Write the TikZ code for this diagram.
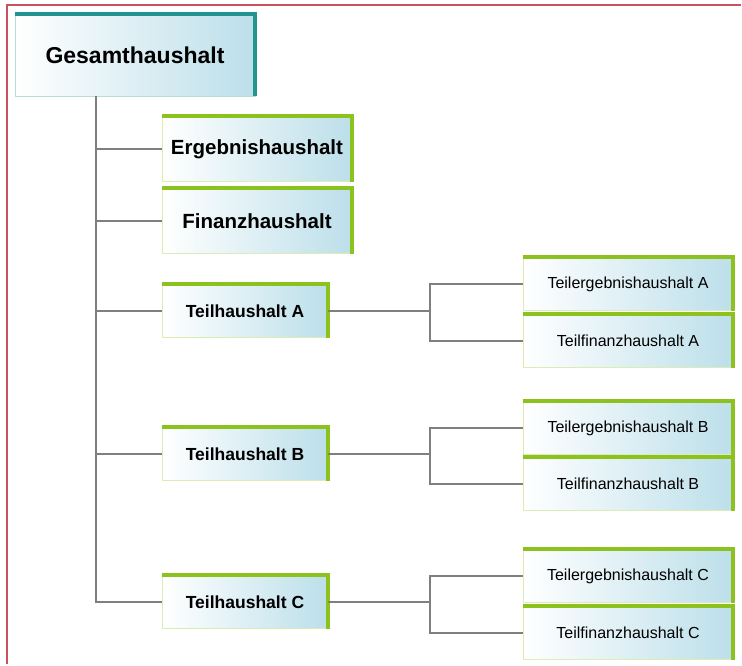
\documentclass[tikz,border=0pt]{standalone}
\usepackage{fontspec}
\setmainfont{Liberation Sans}
\definecolor{leafgreen}{HTML}{8CC21E}
\definecolor{palegreen}{HTML}{DCEDB4}
\definecolor{rootteal}{HTML}{22938F}
\definecolor{paleteal}{HTML}{B8DCDA}
\definecolor{boxblue}{HTML}{BCDFEA}
\definecolor{linkgray}{HTML}{7F7F7F}
\definecolor{framered}{HTML}{C8535C}

\tikzset{
  box/.style={draw=palegreen, line width=0.8pt, left color=white,
              middle color=white!75!boxblue, right color=boxblue,
              inner sep=0pt, align=center},
  rootbox/.style={box, draw=paleteal, minimum width=240pt, minimum height=82pt,
                  font=\bfseries\fontsize{23}{26}\selectfont},
  mainbox/.style={box, minimum width=189pt, minimum height=65pt,
                  font=\bfseries\fontsize{20.5}{24}\selectfont},
  partbox/.style={box, minimum width=165pt, minimum height=53pt,
                  font=\bfseries\fontsize{17.5}{20}\selectfont},
  subbox/.style={box, minimum width=210pt, minimum height=53pt,
                 font=\fontsize{16}{19}\selectfont},
  link/.style={draw=linkgray, line width=1.8pt},
  topedge/.style={draw=leafgreen, line width=4pt},
}

\begin{document}
\begin{tikzpicture}[x=1pt, y=-1pt]
            \useasboundingbox (0,0) rectangle (742,665);
            \draw[framered, line width=2pt] (741,5) -- (7,5) -- (7,664);

            \node[rootbox] (gesamt) at (135, 55) {Gesamthaushalt};
            \node[mainbox] (ergebnis) at (257, 149) {Ergebnishaushalt};
            \node[mainbox] (finanz) at (257, 221) {Finanzhaushalt};
            \node[partbox] (teilA) at (245, 311) {Teilhaushalt A};
            \node[partbox] (teilB) at (245, 454) {Teilhaushalt B};
            \node[partbox] (teilC) at (245, 602) {Teilhaushalt C};
            \node[subbox] (tergA) at (628, 284) {Teilergebnishaushalt A};
            \node[subbox] (tfinA) at (628, 341) {Teilfinanzhaushalt A};
            \node[subbox] (tergB) at (628, 428) {Teilergebnishaushalt B};
            \node[subbox] (tfinB) at (628, 484) {Teilfinanzhaushalt B};
            \node[subbox] (tergC) at (628, 576) {Teilergebnishaushalt C};
            \node[subbox] (tfinC) at (628, 633) {Teilfinanzhaushalt C};

            % thick top and right edges
            \draw[topedge, draw=rootteal] (gesamt.north west) -- (gesamt.north east) -- (gesamt.south east);
            \foreach \n in {ergebnis, finanz, teilA, teilB, teilC, tergA, tfinA, tergB, tfinB, tergC, tfinC}
                \draw[topedge] (\n.north west) -- (\n.north east) -- (\n.south east);

            \coordinate (trunk) at (96, 0);
            \coordinate (fork) at (430, 0);
            \foreach \n in {ergebnis, finanz, teilA, teilB, teilC}
                \draw[link] (gesamt.south -| trunk) |- (\n.west);
            \foreach \p in {A, B, C} {
                \draw[link] (teil\p.east) -- (teil\p.east -| fork) |- (terg\p.west);
                \draw[link] (teil\p.east -| fork) |- (tfin\p.west);
            }
        \end{tikzpicture}
\end{document}
